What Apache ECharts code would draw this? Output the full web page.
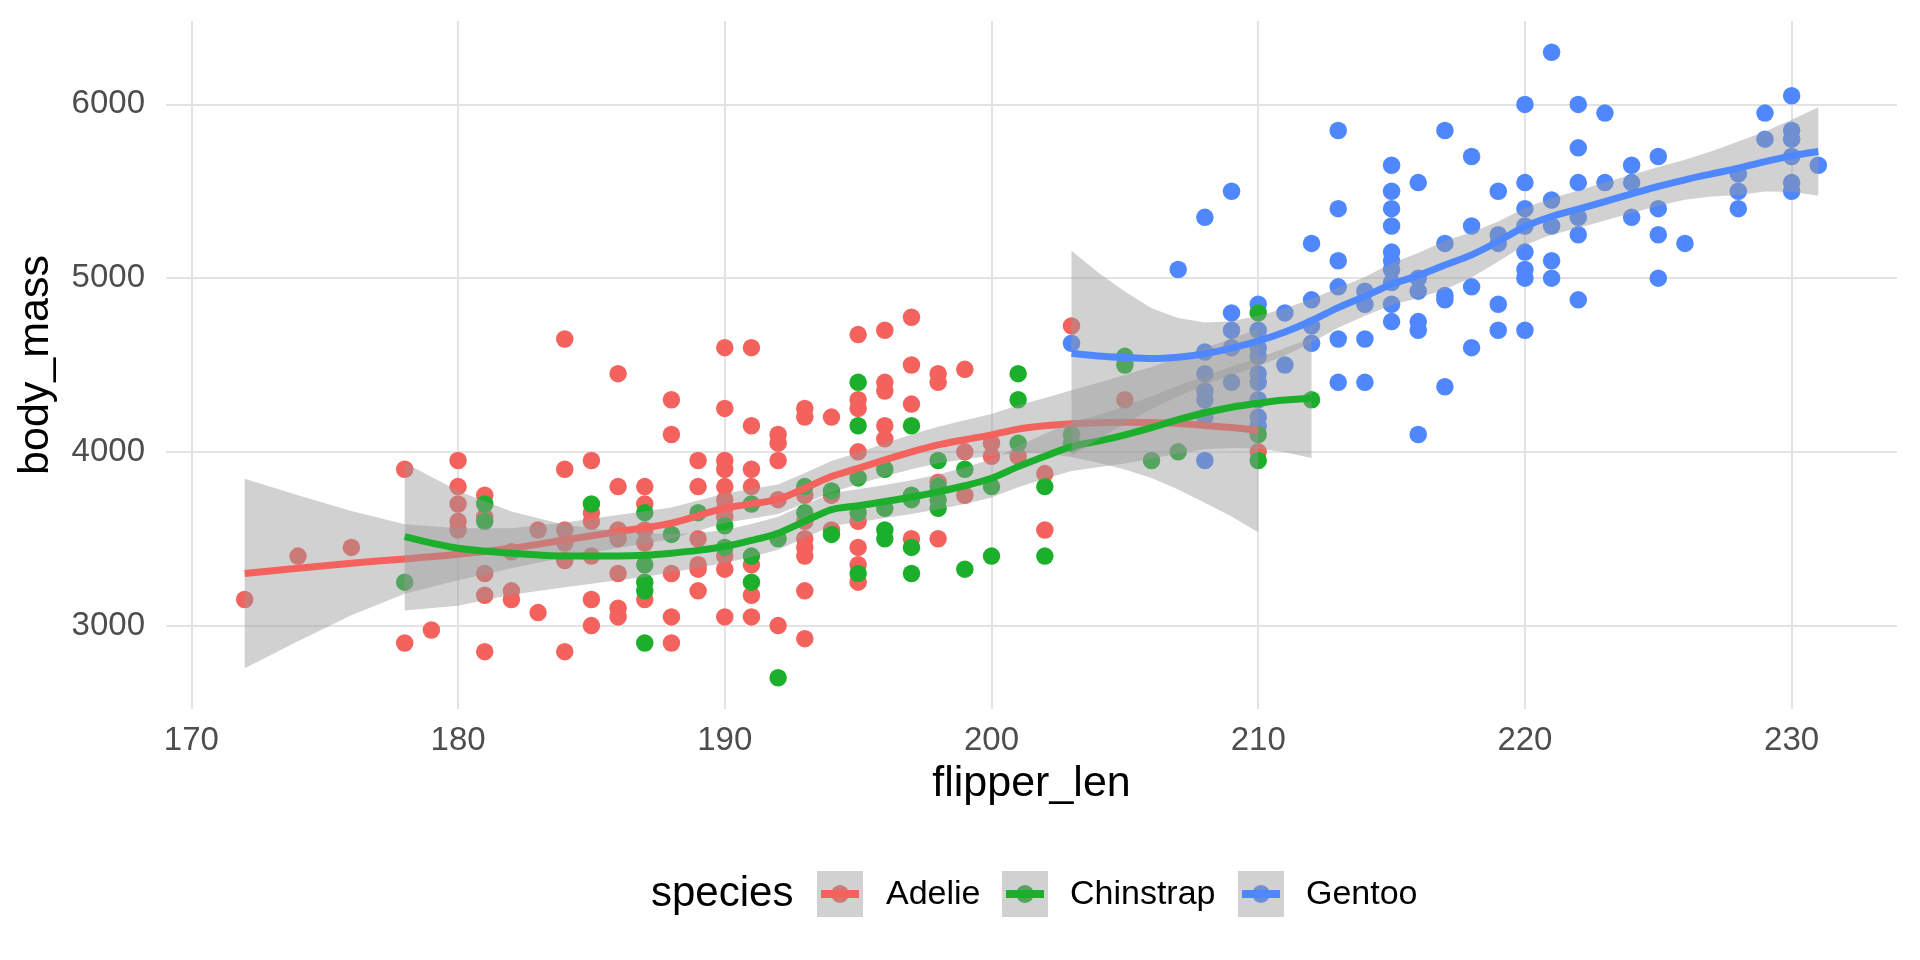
<!DOCTYPE html>
<html>
<head>
<meta charset="utf-8">
<title>body_mass vs flipper_len</title>
<script src="https://cdn.jsdelivr.net/npm/echarts@6.0.0/dist/echarts.min.js"></script>
<style>
    html, body { margin: 0; padding: 0; background: #ffffff; }
    #divPenguins { width: 1920px; height: 960px; }
</style>
</head>
<body>
<div id="divPenguins"></div>
<script>

// species and their colours
const speciesNames = ['Adelie', 'Chinstrap', 'Gentoo'];
const speciesColors = ['#F4625E', '#1BAF2C', '#4F87FF'];

// points: [flipper_len, body_mass]
const adeliePoints = [
    [172, 3150], [174, 3400], [176, 3450], [178, 3900], [178, 2900], [179, 2975],
    [180, 3950], [180, 3800], [180, 3700], [180, 3600], [180, 3550],
    [181, 3750], [181, 3625], [181, 3300], [181, 3175], [181, 2850],
    [182, 3425], [182, 3200], [182, 3150], [183, 3550], [183, 3075],
    [184, 4650], [184, 3900], [184, 3550], [184, 3475], [184, 3375], [184, 2850],
    [185, 3950], [185, 3650], [185, 3600], [185, 3400], [185, 3150], [185, 3000],
    [186, 4450], [186, 3800], [186, 3550], [186, 3500], [186, 3300], [186, 3100], [186, 3050],
    [187, 3800], [187, 3700], [187, 3550], [187, 3475], [187, 3150],
    [188, 4300], [188, 4100], [188, 3300], [188, 3050], [188, 2900],
    [189, 3950], [189, 3800], [189, 3500], [189, 3350], [189, 3325], [189, 3200],
    [190, 4600], [190, 4250], [190, 3950], [190, 3900], [190, 3800], [190, 3725],
    [190, 3675], [190, 3625], [190, 3400], [190, 3325], [190, 3050],
    [191, 4600], [191, 4150], [191, 3900], [191, 3800], [191, 3350], [191, 3175], [191, 3050],
    [192, 4100], [192, 4050], [192, 3950], [192, 3725], [192, 3000],
    [193, 4250], [193, 4200], [193, 3750], [193, 3600], [193, 3500], [193, 3450],
    [193, 3400], [193, 3200], [193, 2925],
    [194, 4200], [194, 3750], [194, 3550],
    [195, 4675], [195, 4300], [195, 4250], [195, 4000], [195, 3600], [195, 3450], [195, 3350], [195, 3250],
    [196, 4700], [196, 4400], [196, 4350], [196, 4150], [196, 4075],
    [197, 4775], [197, 4500], [197, 4275], [197, 3500],
    [198, 4450], [198, 4400], [198, 3825], [198, 3500],
    [199, 4475], [199, 4000], [199, 3750], [200, 4050], [200, 3975], [201, 3975],
    [202, 3875], [202, 3550], [203, 4725], [205, 4300], [210, 4000]
];

const chinstrapPoints = [
    [178, 3250], [181, 3700], [181, 3600], [185, 3700],
    [187, 3650], [187, 3350], [187, 3250], [187, 3200], [187, 2900],
    [188, 3525], [189, 3650], [190, 3575], [190, 3450],
    [191, 3700], [191, 3400], [191, 3250], [192, 3500], [192, 2700],
    [193, 3800], [193, 3650], [194, 3775], [194, 3525],
    [195, 4400], [195, 4150], [195, 3850], [195, 3650], [195, 3300],
    [196, 3900], [196, 3675], [196, 3550], [196, 3500],
    [197, 4150], [197, 3750], [197, 3725], [197, 3450], [197, 3300],
    [198, 3950], [198, 3800], [198, 3725], [198, 3675],
    [199, 3900], [199, 3325], [200, 3800], [200, 3400],
    [201, 4450], [201, 4300], [201, 4050], [202, 3800], [202, 3400],
    [203, 4100], [203, 4050], [205, 4550], [205, 4500], [206, 3950], [207, 4000],
    [210, 4800], [210, 4100], [210, 3950], [212, 4300]
];

const gentooPoints = [
    [203, 4625], [207, 5050],
    [208, 5350], [208, 4575], [208, 4450], [208, 4350], [208, 4300], [208, 4200], [208, 3950],
    [209, 5500], [209, 4800], [209, 4700], [209, 4600], [209, 4400],
    [210, 4850], [210, 4700], [210, 4600], [210, 4550], [210, 4450], [210, 4400],
    [210, 4300], [210, 4200], [210, 4150],
    [211, 4800], [211, 4500], [212, 5200], [212, 4875], [212, 4725], [212, 4625],
    [213, 5850], [213, 5400], [213, 5100], [213, 4950], [213, 4650], [213, 4400],
    [214, 4925], [214, 4850], [214, 4650], [214, 4400],
    [215, 5650], [215, 5500], [215, 5400], [215, 5300], [215, 5150], [215, 5100],
    [215, 5050], [215, 4975], [215, 4850], [215, 4750],
    [216, 5550], [216, 5000], [216, 4925], [216, 4750], [216, 4700], [216, 4100],
    [217, 5850], [217, 5200], [217, 4900], [217, 4875], [217, 4375],
    [218, 5700], [218, 5300], [218, 4950], [218, 4600],
    [219, 5500], [219, 5250], [219, 5200], [219, 4850], [219, 4700],
    [220, 6000], [220, 5550], [220, 5400], [220, 5300], [220, 5150], [220, 5050], [220, 5000], [220, 4700],
    [221, 6300], [221, 5450], [221, 5300], [221, 5100], [221, 5000],
    [222, 6000], [222, 5750], [222, 5550], [222, 5350], [222, 5250], [222, 4875],
    [223, 5950], [223, 5550], [224, 5650], [224, 5550], [224, 5350],
    [225, 5700], [225, 5400], [225, 5250], [225, 5000], [226, 5200],
    [228, 5600], [228, 5500], [228, 5400], [229, 5950], [229, 5800],
    [230, 6050], [230, 5850], [230, 5800], [230, 5700], [230, 5550], [230, 5500], [231, 5650]
];

// loess fits and their confidence band
const adelieSmoothX = [172, 174, 176, 178, 180, 182, 184, 186, 188, 190, 192, 193, 194, 195, 196,
    197, 198, 199, 200, 201, 202, 203, 204, 205, 206, 207, 208, 209, 210];
const adelieFit = [3300, 3330, 3359, 3384, 3411, 3445, 3493, 3541, 3590, 3676, 3727, 3791, 3858, 3905, 3954,
    4000, 4040, 4070, 4098, 4131, 4150, 4162, 4168, 4170, 4169, 4163, 4152, 4140, 4123];
const adelieLow = [2755, 2910, 3059, 3184, 3261, 3330, 3393, 3446, 3500, 3591, 3642, 3704, 3768, 3813, 3859,
    3900, 3935, 3958, 3978, 3993, 3990, 3970, 3938, 3898, 3849, 3783, 3707, 3628, 3538];
const adelieHigh = [3845, 3750, 3659, 3584, 3561, 3560, 3593, 3636, 3680, 3761, 3812, 3878, 3948, 3997, 4049,
    4100, 4145, 4182, 4218, 4269, 4310, 4354, 4398, 4442, 4489, 4543, 4597, 4652, 4708];

const chinstrapSmoothX = [178, 180, 182, 184, 186, 187, 188, 189, 190, 191, 192, 193, 194, 195, 196,
    197, 198, 199, 200, 201, 202, 203, 204, 205, 206, 207, 208, 209, 210, 211, 212];
const chinstrapFit = [3512, 3445, 3417, 3401, 3401, 3405, 3417, 3433, 3455, 3490, 3532, 3600, 3668, 3690, 3714,
    3740, 3770, 3805, 3848, 3915, 3975, 4030, 4062, 4098, 4140, 4185, 4225, 4257, 4280, 4298, 4309];
const chinstrapLow = [3087, 3115, 3177, 3221, 3261, 3280, 3307, 3333, 3360, 3395, 3437, 3505, 3573, 3595, 3619,
    3643, 3670, 3700, 3738, 3797, 3845, 3890, 3912, 3933, 3960, 3990, 4015, 4022, 4020, 3998, 3964];
const chinstrapHigh = [3937, 3775, 3657, 3581, 3541, 3530, 3527, 3533, 3550, 3585, 3627, 3695, 3763, 3785, 3809,
    3837, 3870, 3910, 3958, 4033, 4105, 4170, 4212, 4263, 4320, 4380, 4435, 4492, 4540, 4598, 4654];

const gentooSmoothX = [203, 204, 205, 206, 207, 208, 209, 210, 211, 212, 213, 214, 215, 216, 217,
    218, 219, 220, 221, 222, 223, 224, 225, 226, 227, 228, 229, 230, 231];
const gentooFit = [4568, 4552, 4543, 4537, 4545, 4565, 4597, 4638, 4690, 4755, 4830, 4895, 4965, 5015, 5075,
    5134, 5211, 5297, 5355, 5397, 5441, 5485, 5528, 5566, 5600, 5633, 5671, 5704, 5729];
const gentooLow = [3978, 4072, 4163, 4247, 4320, 4385, 4442, 4493, 4555, 4630, 4715, 4783, 4845, 4885, 4935,
    5004, 5096, 5191, 5250, 5289, 5331, 5375, 5416, 5451, 5470, 5479, 5498, 5497, 5474];
const gentooHigh = [5158, 5032, 4923, 4827, 4770, 4745, 4752, 4783, 4825, 4880, 4945, 5007, 5085, 5145, 5215,
    5264, 5326, 5403, 5460, 5505, 5551, 5595, 5640, 5681, 5730, 5787, 5844, 5911, 5984];

// axis ticks (ggplot expands the data range by 5% on each side)
const xTicks = [170, 180, 190, 200, 210, 220, 230];
const yTicks = [3000, 4000, 5000, 6000];
const xRange = [169.05, 233.95];
const yRange = [2520, 6480];

const FONT = '"Liberation Sans", Arial, sans-serif';
const RIBBON = 'rgba(153,153,153,0.45)';
const GRID = '#E3E3E3';

function zip(xs, ys) {
    let out = [];
    for (let i = 0; i < xs.length; i++) {
        out.push([xs[i], ys[i]]);
    }
    return out;
}

// grey confidence band drawn as one polygon through the axis scales
function bandSeries(name, xs, low, high, z) {
    return {
        name: name + ' band',
        type: 'custom',
        z: z,
        silent: true,
        data: [[xs[0], low[0]]],
        renderItem: function (params, api) {
            let pts = [];
            for (let i = 0; i < xs.length; i++) {
                pts.push(api.coord([xs[i], high[i]]));
            }
            for (let i = xs.length - 1; i >= 0; i--) {
                pts.push(api.coord([xs[i], low[i]]));
            }
            return {
                type: 'polygon',
                shape: {points: pts},
                style: {fill: RIBBON}
            };
        }
    };
}

function lineSeries(name, xs, ys, color, z) {
    return {
        name: name,
        type: 'line',
        z: z,
        silent: true,
        smooth: 0.3,
        showSymbol: false,
        data: zip(xs, ys),
        lineStyle: {color: color, width: 7}
    };
}

function scatterSeries(name, pts, color) {
    return {
        name: name,
        type: 'scatter',
        z: 2,
        silent: true,
        symbolSize: 17.5,
        data: pts,
        itemStyle: {color: color, opacity: 1}
    };
}

// legend drawn by hand: ggplot puts the ribbon grey over each key point
function buildLegend() {
    let keyX = [817, 1002, 1238];
    let labelX = [886, 1070, 1306];
    let cy = 894;
    let els = [{
        type: 'text', x: 651, y: cy, z: 10,
        style: {text: 'species', fontSize: 42, fontFamily: FONT, fill: '#000000', verticalAlign: 'middle'}
    }];
    for (let i = 0; i < speciesNames.length; i++) {
        els.push({
            type: 'circle', z: 10,
            shape: {cx: keyX[i] + 23, cy: cy, r: 9},
            style: {fill: speciesColors[i]}
        });
        els.push({
            type: 'rect', z: 11,
            shape: {x: keyX[i], y: cy - 23, width: 46, height: 46},
            style: {fill: RIBBON}
        });
        els.push({
            type: 'line', z: 12,
            shape: {x1: keyX[i] + 4, y1: cy, x2: keyX[i] + 42, y2: cy},
            style: {stroke: speciesColors[i], lineWidth: 8}
        });
        els.push({
            type: 'text', x: labelX[i], y: cy + 1, z: 10,
            style: {text: speciesNames[i], fontSize: 34, fontFamily: FONT, fill: '#000000', verticalAlign: 'middle'}
        });
    }
    return els;
}

let myChart = echarts.init(document.getElementById('divPenguins'), null, {renderer: 'canvas'});

let option = {
    animation: false,
    backgroundColor: '#ffffff',
    grid: {left: 166, right: 23, top: 21, bottom: 251, containLabel: false, outerBoundsMode: 'none'},
    xAxis: {
        type: 'value',
        min: xRange[0],
        max: xRange[1],
        name: 'flipper_len',
        nameLocation: 'middle',
        nameGap: 54,
        nameTextStyle: {fontFamily: FONT, fontSize: 43, color: '#000000'},
        axisLine: {show: false},
        axisTick: {show: false},
        axisLabel: {
            fontFamily: FONT, fontSize: 33, color: '#4D4D4D', margin: 15,
            showMinLabel: false, showMaxLabel: false,
            formatter: function (v) { return xTicks.indexOf(v) >= 0 ? String(v) : ''; }
        },
        splitLine: {show: true, showMinLine: false, showMaxLine: false, lineStyle: {color: GRID, width: 2}}
    },
    yAxis: {
        type: 'value',
        min: yRange[0],
        max: yRange[1],
        name: 'body_mass',
        nameLocation: 'middle',
        nameGap: 108,
        nameTextStyle: {fontFamily: FONT, fontSize: 43, color: '#000000'},
        axisLine: {show: false},
        axisTick: {show: false},
        axisLabel: {
            fontFamily: FONT, fontSize: 33, color: '#4D4D4D', margin: 21,
            showMinLabel: false, showMaxLabel: false,
            formatter: function (v) { return yTicks.indexOf(v) >= 0 ? String(v) : ''; }
        },
        splitLine: {show: true, showMinLine: false, showMaxLine: false, lineStyle: {color: GRID, width: 2}}
    },
    series: [
        // points in data order: Adelie, Gentoo, Chinstrap
        scatterSeries('Adelie', adeliePoints, speciesColors[0]),
        scatterSeries('Gentoo', gentooPoints, speciesColors[2]),
        scatterSeries('Chinstrap', chinstrapPoints, speciesColors[1]),
        // smooths: band then line, per species
        bandSeries('Adelie', adelieSmoothX, adelieLow, adelieHigh, 3),
        lineSeries('Adelie', adelieSmoothX, adelieFit, speciesColors[0], 4),
        bandSeries('Chinstrap', chinstrapSmoothX, chinstrapLow, chinstrapHigh, 5),
        lineSeries('Chinstrap', chinstrapSmoothX, chinstrapFit, speciesColors[1], 6),
        bandSeries('Gentoo', gentooSmoothX, gentooLow, gentooHigh, 7),
        lineSeries('Gentoo', gentooSmoothX, gentooFit, speciesColors[2], 8)
    ],
    graphic: {elements: buildLegend()}
};

myChart.setOption(option);

</script>
</body>
</html>
